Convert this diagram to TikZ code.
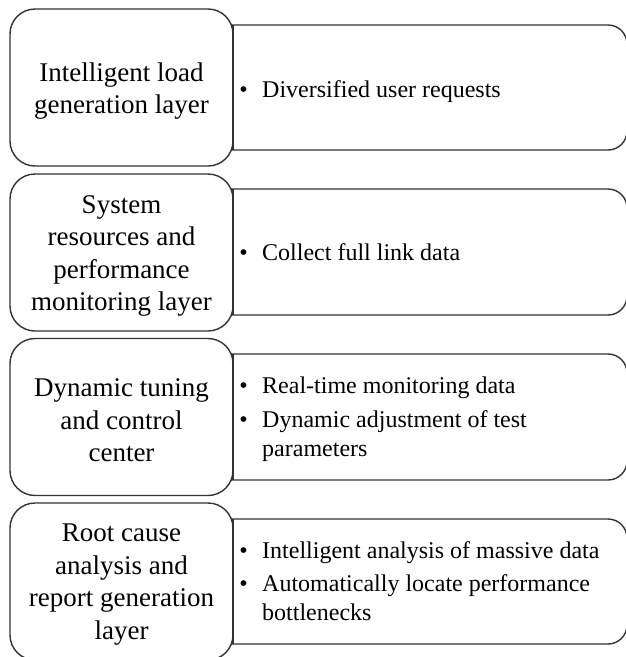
\documentclass[tikz,border=0pt]{standalone}
\usepackage{fontspec}
\setmainfont{Liberation Serif}
\begin{document}
\begin{tikzpicture}[x=1pt,y=-1pt,
  layerbox/.style={draw=black!80, fill=white, line width=1.4pt, rounded corners=25pt,
    minimum width=223pt, minimum height=157pt, align=center, inner sep=0pt,
    font=\fontsize{27}{32.5}\selectfont},
  layertext/.style={align=center, inner sep=0pt, font=\fontsize{27}{32.5}\selectfont},
  panel/.style={draw=black!80, line width=1.4pt, rounded corners=19pt},
  edge/.style={draw=black!80, line width=1.4pt},
  itemtext/.style={anchor=base west, inner sep=0pt, font=\fontsize{24}{29.5}\selectfont},
  bulletmark/.style={anchor=base, inner sep=0pt, font=\fontsize{24}{29.5}\selectfont}]
\useasboundingbox (0,0) rectangle (626,657);
\clip (0,0) rectangle (626,657);

% right panels
\draw[panel] (150,25) rectangle (627,150);
\draw[panel] (150,189) rectangle (627,315);
\draw[panel] (150,354) rectangle (627,480);
\draw[panel] (150,519) rectangle (627,644);

% left layer boxes
\node[layerbox] (l1) at (121.5,87.5) {};
\node[layerbox] (l2) at (121.5,252.5) {};
\node[layerbox] (l3) at (121.5,417) {};
\node[layerbox] (l4) at (121.5,581.5) {};
\node[layertext] (n1) at (121.5,91) {Intelligent load\\generation layer};
\node[layertext] (n2) at (121.5,256) {System\\resources and\\performance\\monitoring layer};
\node[layertext] (n3) at (121.5,420.5) {Dynamic tuning\\and control\\center};
\node[layertext] (n4) at (121.5,584.5) {Root cause\\analysis and\\report generation\\layer};

% left edges of the panels
\draw[edge] (233,25) -- (233,150);
\draw[edge] (233,189) -- (233,315);
\draw[edge] (233,354) -- (233,480);
\draw[edge] (233,519) -- (233,644);

% panel 1
\node[bulletmark] (b1) at (243.5,97) {\textbullet};
\node[itemtext] (t1) at (262,97) {Diversified user requests};
% panel 2
\node[bulletmark] (b2) at (243.5,260) {\textbullet};
\node[itemtext] (t2) at (262,260) {Collect full link data};
% panel 3
\node[bulletmark] (b3a) at (243.5,393) {\textbullet};
\node[itemtext] (t3a) at (262,393) {Real-time monitoring data};
\node[bulletmark] (b3b) at (243.5,427) {\textbullet};
\node[itemtext] (t3b) at (262,427) {Dynamic adjustment of test};
\node[itemtext] (t3c) at (262,456) {parameters};
% panel 4
\node[bulletmark] (b4a) at (243.5,558) {\textbullet};
\node[itemtext] (t4a) at (262,558) {Intelligent analysis of massive data};
\node[bulletmark] (b4b) at (243.5,591) {\textbullet};
\node[itemtext] (t4b) at (262,591) {Automatically locate performance};
\node[itemtext] (t4c) at (262,620) {bottlenecks};
\end{tikzpicture}
\end{document}
